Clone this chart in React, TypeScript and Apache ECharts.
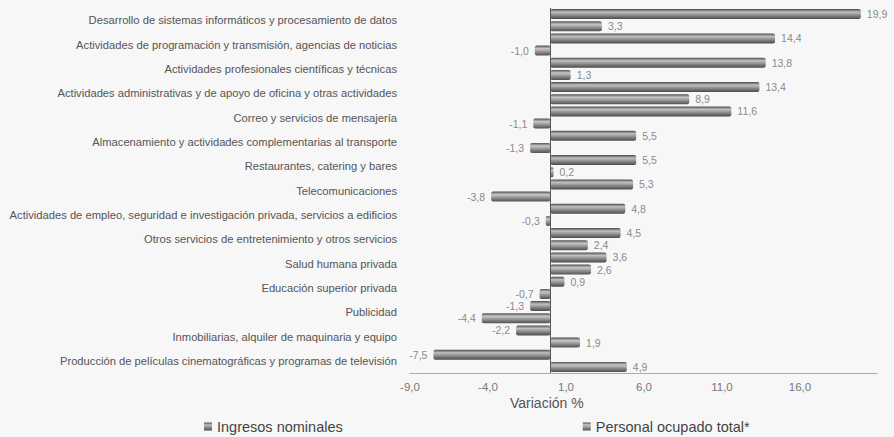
import React, { useEffect, useRef } from "react";
import * as echarts from "echarts";

const categories = [
  "Desarrollo de sistemas informáticos y procesamiento de datos",
  "Actividades de programación y transmisión, agencias de noticias",
  "Actividades profesionales científicas y técnicas",
  "Actividades administrativas y de apoyo de oficina y otras actividades",
  "Correo y servicios de mensajería",
  "Almacenamiento y actividades complementarias al transporte",
  "Restaurantes, catering y bares",
  "Telecomunicaciones",
  "Actividades de empleo, seguridad e investigación privada, servicios a edificios",
  "Otros servicios de entretenimiento y otros servicios",
  "Salud humana privada",
  "Educación superior privada",
  "Publicidad",
  "Inmobiliarias, alquiler de maquinaria y equipo",
  "Producción de películas cinematográficas y programas de televisión",
];

const ingresosNominales = [19.9, 14.4, 13.8, 13.4, 11.6, 5.5, 5.5, 5.3, 4.8, 4.5, 3.6, 0.9, -1.3, -2.2, -7.5];
const personalOcupado = [3.3, -1.0, 1.3, 8.9, -1.1, -1.3, 0.2, -3.8, -0.3, 2.4, 2.6, -0.7, -4.4, 1.9, 4.9];

const seriesNames = ["Ingresos nominales", "Personal ocupado total*"];
const axisMin = -9;
const axisMax = 21;
const axisInterval = 5;
const axisTitle = "Variación %";

const fmt = (v: number) => v.toFixed(1).replace(".", ",");

const cylinder = (dark: string, mid: string, light: string) =>
  new echarts.graphic.LinearGradient(0, 0, 0, 1, [
    { offset: 0, color: dark },
    { offset: 0.3, color: light },
    { offset: 0.65, color: mid },
    { offset: 1, color: dark },
  ]);

const makeData = (vals: number[]) =>
  vals.map((v) => ({
    value: v,
    label: { position: v < 0 ? "left" : "right" },
  }));

export default function App() {
  const ref = useRef<HTMLDivElement>(null);
  useEffect(() => {
    if (!ref.current) return;
    const chart = echarts.init(ref.current, null, { renderer: "svg" });
    const labelStyle = {
      show: true,
      formatter: (p: any) => fmt(p.value),
      fontSize: 10.5,
      color: "#8a8a8a",
      fontFamily: "Liberation Sans, Arial, sans-serif",
      distance: 4,
      backgroundColor: "#f8f8f8",
      padding: [0, 2],
    };
    chart.setOption({
      animation: false,
      backgroundColor: "#f7f7f7",
      textStyle: { fontFamily: "Liberation Sans, Arial, sans-serif" },
      grid: { left: 410, right: 16, top: 8, bottom: 64, containLabel: false },
      xAxis: {
        type: "value",
        min: axisMin,
        max: axisMax,
        interval: axisInterval,
        axisLine: { show: true, lineStyle: { color: "#999", type: "dotted", width: 1 } },
        axisTick: { show: false },
        splitLine: { show: false },
        axisLabel: {
          formatter: (v: number) => (v === axisMax ? "" : fmt(v)),
          color: "#777",
          fontSize: 11.5,
          margin: 8,
        },
      },
      yAxis: {
        type: "category",
        inverse: true,
        data: categories,
        axisLine: { show: false, onZero: false },
        axisTick: { show: false },
        axisLabel: { color: "#555", fontSize: 11.2, margin: 13 },
      },
      legend: {
        left: 204,
        top: 419,
        padding: 0,
        itemGap: 240,
        itemWidth: 8,
        itemHeight: 8,
        icon: "rect",
        textStyle: { fontSize: 14.5, lineHeight: 14, color: "#444" },
        data: seriesNames,
      },
      graphic: [
        {
          type: "text",
          left: 510,
          top: 396,
          style: { text: axisTitle, fontSize: 14, fill: "#555" },
        },
      ],
      series: [
        {
          name: seriesNames[0],
          type: "bar",
          barWidth: 10,
          barGap: "22%",
          data: makeData(ingresosNominales),
          itemStyle: { color: cylinder("#4a4a4a", "#858585", "#c0c0c0"), borderRadius: 2 },
          label: labelStyle,
          markLine: {
            silent: true,
            symbol: "none",
            label: { show: false },
            lineStyle: { color: "#555", type: "solid", width: 1 },
            data: [{ xAxis: 0 }],
          },
        },
        {
          name: seriesNames[1],
          type: "bar",
          barWidth: 10,
          barGap: "22%",
          data: makeData(personalOcupado),
          itemStyle: { color: cylinder("#505050", "#8c8c8c", "#c8c8c8"), borderRadius: 2 },
          label: labelStyle,
        },
      ],
    });
    return () => chart.dispose();
  }, []);
  return (
    <div
      ref={ref}
      style={{ position: "fixed", left: 0, top: 0, width: 894, height: 437 }}
    />
  );
}
